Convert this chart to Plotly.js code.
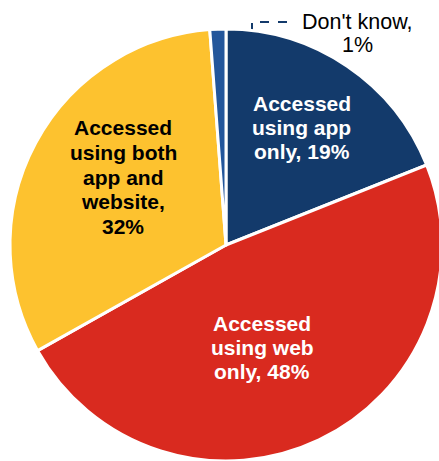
<!DOCTYPE html>
<html><head><meta charset="utf-8">
<script src="https://cdn.plot.ly/plotly-3.0.1.min.js"></script>
<style>html,body{margin:0;padding:0;overflow:hidden;background:#fff}</style>
</head><body><div id="chart"></div>
<script>
const categories = ["Accessed using app only", "Accessed using web only", "Accessed using both app and website", "Don't know"];
const values = [19, 48, 32, 1.2];
const labelTexts = ["Accessed<br>using app<br>only, 19%", "Accessed<br>using web<br>only, 48%", "Accessed<br>using both<br>app and<br>website,<br>32%", "Don't know,<br>1%"];
const colors = ["#133a6b", "#d92a1f", "#fdc22f", "#23569b"];

const W = 445, H = 461, L = 10, R = 3, T = 29, B = 0;
const pw = W - L - R, ph = H - T - B;
const px = x => (x - L) / pw;
const py = y => (H - B - y) / ph;

// [centre x, first line middle y, line pitch, colour, bold, size]
const labelPos = [
  [301.5, 103, 24.3, '#fff', true, 21],
  [262, 323, 24.3, '#fff', true, 21],
  [123.5, 128, 24.5, '#000', true, 21],
  [357, 22, 23.5, '#000', false, 21.5]
];
const annotations = [];
labelTexts.forEach((t,i)=>{
  const p = labelPos[i];
  t.split('<br>').forEach((line,j)=>{
    annotations.push({
      text: p[4] ? '<b>'+line+'</b>' : line,
      x: px(p[0]), y: py(p[1] + j*p[2]), xref:'paper', yref:'paper',
      showarrow:false, xanchor:'center', yanchor:'middle',
      font:{family:'Liberation Sans, Arial, sans-serif', size:p[5], color:p[3]}
    });
  });
});

Plotly.newPlot('chart', [{
  type:'pie', labels:categories, values:values, sort:false, direction:'clockwise', rotation:0,
  marker:{colors:colors, line:{color:'#fff', width:3}},
  textinfo:'none', hoverinfo:'label+percent', showlegend:false
}], {
  width:W, height:H, margin:{l:L,r:R,t:T,b:B}, paper_bgcolor:'#fff',
  annotations:annotations,
  shapes:[{type:'path', xref:'paper', yref:'paper', layer:'below',
    path:`M ${px(287)} ${py(22)} L ${px(252)} ${py(22)} L ${px(252)} ${py(52)} L ${px(224)} ${py(52)}`,
    line:{color:'#133a6b', width:2, dash:'dash'}}]
}, {displayModeBar:false, staticPlot:true});
</script></body></html>
